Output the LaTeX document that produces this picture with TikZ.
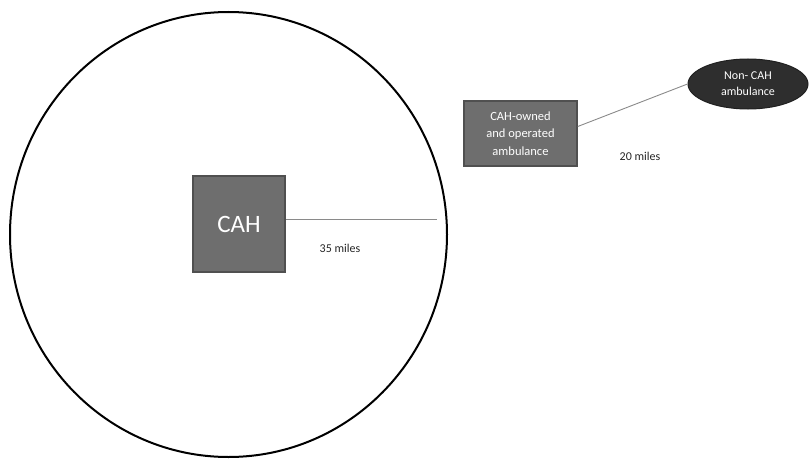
\documentclass[tikz,border=0pt]{standalone}
\usepackage{fontspec}
\setmainfont{Carlito}
\usetikzlibrary{shapes.geometric}
\definecolor{boxgray}{HTML}{6E6E6E}
\definecolor{boxedge}{HTML}{505050}
\definecolor{darkoval}{HTML}{2E2E2E}
\definecolor{linegray}{HTML}{8A8A8A}
\tikzset{
  graybox/.style={draw=boxedge, line width=1.5pt, fill=boxgray, text=white, inner sep=0pt},
  conn/.style={draw=linegray, line width=0.9pt},
  lbl/.style={inner sep=0pt, text=black!85, font=\fontsize{12}{14}\selectfont}
}
\begin{document}
\begin{tikzpicture}[x=1pt,y=-1pt]
\useasboundingbox (0,0) rectangle (809,460);
\node[draw=black, line width=2pt, ellipse, minimum width=437pt, minimum height=445pt, inner sep=0pt] (area) at (228.5,234.5) {};
\node[graybox, minimum width=92pt, minimum height=96pt, font=\fontsize{25}{28}\selectfont] (cah) at (239,224) {CAH};
\coordinate (edge) at (437,219);
\draw[conn] (cah.east |- edge) -- (edge);
\node[lbl] (d35) at (340,248) {35 miles};
\node[graybox, minimum width=113pt, minimum height=65pt, align=center, font=\fontsize{12.5}{17.5}\selectfont] (own) at (520.5,133.5) {CAH-owned\\and operated\\ambulance};
\node[ellipse, fill=darkoval, draw=darkoval!70!black, line width=1pt, minimum width=120pt, minimum height=50pt, inner sep=0pt, text=white, align=center, font=\fontsize{12}{16}\selectfont] (non) at (748,84) {Non- CAH\\ambulance};
\draw[conn] (own.east) ++(0,-7) coordinate (ownc) -- (non.west);
\node[lbl] (d20) at (640,156) {20 miles};
\end{tikzpicture}
\end{document}
